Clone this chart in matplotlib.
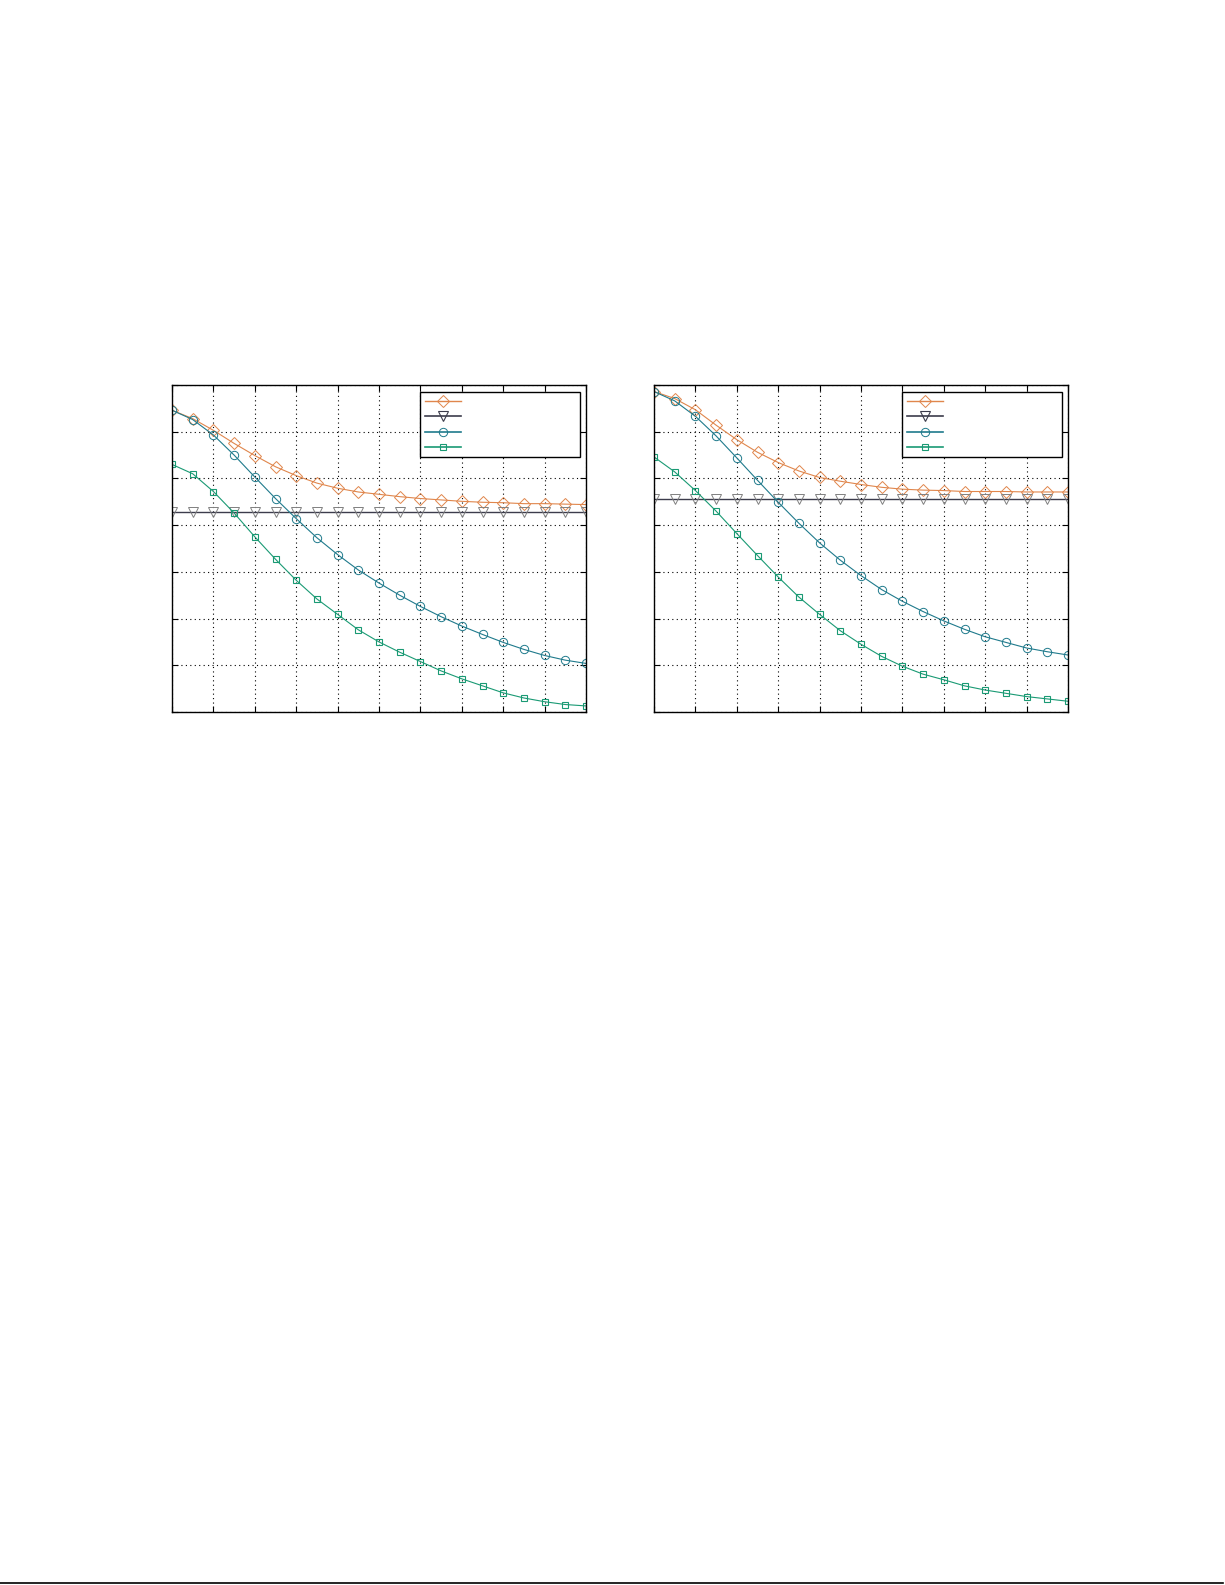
import numpy as np
import matplotlib
matplotlib.use('Agg')
import matplotlib.pyplot as plt
from matplotlib.lines import Line2D

# x positions (21 samples, grid every 2)
x = np.arange(21)

# left panel
left_diamond = [6.46, 6.28, 6.03, 5.75, 5.49, 5.25, 5.06, 4.90, 4.79, 4.71, 4.66,
                4.61, 4.57, 4.54, 4.51, 4.49, 4.48, 4.46, 4.46, 4.45, 4.44]
left_flat = [4.29] * 21
left_circle = [6.46, 6.26, 5.93, 5.50, 5.03, 4.57, 4.14, 3.73, 3.37, 3.04, 2.76,
               2.50, 2.26, 2.04, 1.84, 1.66, 1.49, 1.34, 1.21, 1.11, 1.04]
left_square = [5.30, 5.10, 4.72, 4.26, 3.75, 3.27, 2.82, 2.42, 2.09, 1.76, 1.50,
               1.28, 1.08, 0.88, 0.71, 0.56, 0.41, 0.30, 0.22, 0.16, 0.13]

# right panel
right_diamond = [6.86, 6.71, 6.47, 6.14, 5.83, 5.56, 5.34, 5.16, 5.02, 4.94, 4.87,
                 4.81, 4.77, 4.75, 4.74, 4.72, 4.72, 4.72, 4.71, 4.71, 4.71]
right_flat = [4.56] * 21
right_circle = [6.86, 6.66, 6.33, 5.91, 5.44, 4.96, 4.49, 4.04, 3.62, 3.25, 2.92,
                2.62, 2.37, 2.15, 1.95, 1.77, 1.61, 1.49, 1.37, 1.29, 1.22]
right_square = [5.46, 5.14, 4.74, 4.30, 3.82, 3.35, 2.89, 2.46, 2.09, 1.74, 1.45,
                1.19, 0.98, 0.81, 0.69, 0.56, 0.47, 0.40, 0.33, 0.28, 0.23]

c_orange = '#e0864c'
c_gray = '#3c3c4c'
c_blue = '#1f7a8c'
c_green = '#1a9a74'

W, H = 1225, 1585
fig = plt.figure(figsize=(W / 100, H / 100), dpi=100)


def panel(rect, diamond, flat, circle, square):
    ax = fig.add_axes(rect)
    ax.plot(x, diamond, color=c_orange, lw=0.8, marker='D', ms=6, mfc='none', mew=0.7)
    ax.plot(x, flat, color=c_gray, lw=1.0, marker='v', ms=6.5, mfc='none', mew=0.7,
            mec='#808080')
    ax.plot(x, circle, color=c_blue, lw=0.8, marker='o', ms=6, mfc='none', mew=0.7)
    ax.plot(x, square, color=c_green, lw=0.8, marker='s', ms=5, mfc='none', mew=0.8)
    ax.set_xlim(0, 20)
    ax.set_ylim(0, 7)
    ax.set_xticks(np.arange(0, 21, 2))
    ax.set_yticks(np.arange(0, 8, 1))
    ax.tick_params(direction='in', top=True, right=True, length=4, width=0.8,
                   labelbottom=False, labelleft=False)
    ax.grid(True, color='black', linestyle=(0, (1, 3)), linewidth=0.8)
    for s in ax.spines.values():
        s.set_linewidth(1.0)

    handles = [
        Line2D([], [], color=c_orange, lw=1, marker='D', ms=6, mfc='none', mew=0.7),
        Line2D([], [], color=c_gray, lw=1.2, marker='v', ms=6.5, mfc='none', mew=0.8),
        Line2D([], [], color=c_blue, lw=1.2, marker='o', ms=6, mfc='none', mew=0.7),
        Line2D([], [], color=c_green, lw=1.2, marker='s', ms=5, mfc='none', mew=0.8),
    ]
    leg = ax.legend(handles, [' '] * 4, loc='upper left',
                    bbox_to_anchor=(0.60, 0.98, 0.386, 0.0), mode='expand',
                    borderaxespad=0, fontsize=7, labelspacing=0.55,
                    handlelength=3.7, borderpad=0.5, fancybox=False,
                    framealpha=1, edgecolor='black')
    leg.get_frame().set_linewidth(1.0)
    return ax


top = 1 - 712 / H
h = 327 / H
panel([172 / W, top, 414 / W, h], left_diamond, left_flat, left_circle, left_square)
panel([654 / W, top, 414 / W, h], right_diamond, right_flat, right_circle, right_square)

# page rule at the bottom
fig.add_artist(Line2D([0, 1223 / W], [1 - 1583 / H] * 2, color='black', lw=1.2))

fig.savefig('out.png', dpi=100)
